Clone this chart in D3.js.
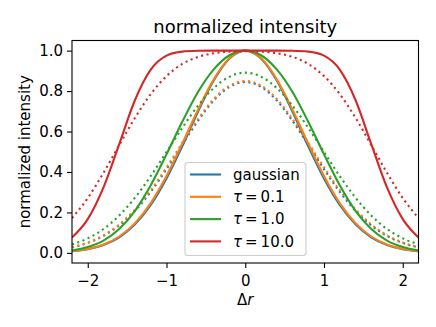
<!DOCTYPE html>
<html>
<head>
<meta charset="utf-8">
<script src="https://cdn.jsdelivr.net/npm/d3@7"></script>
<style>
  body { margin: 0; background: #fff; }
  svg { display: block; font-family: "DejaVu Sans", sans-serif; }
</style>
</head>
<body>
<svg id="chart"></svg>
<script>
// sample positions along delta r
var dr = [-2.2, -2.0, -1.8, -1.6, -1.4, -1.2, -1.0, -0.8, -0.6, -0.4, -0.2, 0.0,
          0.2, 0.4, 0.6, 0.8, 1.0, 1.2, 1.4, 1.6, 1.8, 2.0, 2.2];

// solid lines
var gaussian = [0.008, 0.018, 0.039, 0.077, 0.141, 0.237, 0.368, 0.527, 0.698, 0.852, 0.961, 1.000,
                0.961, 0.852, 0.698, 0.527, 0.368, 0.237, 0.141, 0.077, 0.039, 0.018, 0.008];
var tau01 = [0.008, 0.019, 0.041, 0.081, 0.147, 0.246, 0.380, 0.540, 0.708, 0.858, 0.963, 1.000,
             0.963, 0.858, 0.708, 0.540, 0.380, 0.246, 0.147, 0.081, 0.041, 0.019, 0.008];
var tau1 = [0.012, 0.029, 0.061, 0.118, 0.208, 0.334, 0.487, 0.648, 0.795, 0.907, 0.977, 1.000,
            0.977, 0.907, 0.795, 0.648, 0.487, 0.334, 0.208, 0.118, 0.061, 0.029, 0.012];
var tau10 = [0.076, 0.167, 0.324, 0.538, 0.756, 0.906, 0.975, 0.995, 0.999, 1.000, 1.000, 1.000,
             1.000, 1.000, 0.999, 0.995, 0.975, 0.906, 0.756, 0.538, 0.324, 0.167, 0.076];

// dotted lines (broadened)
var gaussianDot = [0.027, 0.049, 0.084, 0.136, 0.208, 0.302, 0.414, 0.535, 0.653, 0.754, 0.821, 0.845,
                   0.821, 0.754, 0.653, 0.535, 0.414, 0.302, 0.208, 0.136, 0.084, 0.049, 0.027];
var tau01Dot = [0.028, 0.051, 0.087, 0.141, 0.215, 0.310, 0.423, 0.544, 0.662, 0.761, 0.827, 0.850,
                0.827, 0.761, 0.662, 0.544, 0.423, 0.310, 0.215, 0.141, 0.087, 0.051, 0.028];
var tau1Dot = [0.042, 0.072, 0.118, 0.185, 0.273, 0.380, 0.499, 0.618, 0.728, 0.815, 0.871, 0.891,
               0.871, 0.815, 0.728, 0.618, 0.499, 0.380, 0.273, 0.185, 0.118, 0.072, 0.042];
var tau10Dot = [0.172, 0.271, 0.396, 0.533, 0.668, 0.785, 0.874, 0.934, 0.969, 0.987, 0.995, 0.997,
                0.995, 0.987, 0.969, 0.934, 0.874, 0.785, 0.668, 0.533, 0.396, 0.271, 0.172];

var labels = ["gaussian", "0.1", "1.0", "10.0"];
var colors = ["#1f77b4", "#ff7f0e", "#2ca02c", "#d62728"];
var xTicks = [-2, -1, 0, 1, 2];
var yTicks = [0.0, 0.2, 0.4, 0.6, 0.8, 1.0];

var series = [
  {c: 0, dotted: false, v: gaussian}, {c: 0, dotted: true, v: gaussianDot},
  {c: 1, dotted: false, v: tau01},    {c: 1, dotted: true, v: tau01Dot},
  {c: 2, dotted: false, v: tau1},     {c: 2, dotted: true, v: tau1Dot},
  {c: 3, dotted: false, v: tau10},    {c: 3, dotted: true, v: tau10Dot}
];

var width = 436, height = 327;
// plot box (note: "top" would clash with window.top)
var pLeft = 72, pRight = 418.5, pTop = 40.5, pBottom = 263;
var fs = 15, lw = 2.1;

var svg = d3.select("svg#chart")
    .attr("width", width)
    .attr("height", height);

var x = d3.scaleLinear().domain([-2.2, 2.2]).range([pLeft, pRight]);
var y = d3.scaleLinear().domain([-0.05, 1.05]).range([pBottom, pTop]);

svg.append("defs").append("clipPath")
    .attr("id", "plot-area")
  .append("rect")
    .attr("x", pLeft).attr("y", pTop)
    .attr("width", pRight - pLeft).attr("height", pBottom - pTop);

var line = d3.line()
    .x(function(d, i) { return x(dr[i]); })
    .y(function(d) { return y(d); })
    .curve(d3.curveMonotoneX);

svg.append("g")
    .attr("clip-path", "url(#plot-area)")
  .selectAll("path")
  .data(series)
  .enter().append("path")
    .attr("d", function(d) { return line(d.v); })
    .attr("fill", "none")
    .attr("stroke", function(d) { return colors[d.c]; })
    .attr("stroke-width", lw)
    .attr("stroke-dasharray", function(d) { return d.dotted ? (lw * 1) + "," + (lw * 1.65) : null; });

// axes
var xAxis = svg.append("g")
    .attr("transform", "translate(0," + pBottom + ")")
    .call(d3.axisBottom(x).tickValues(xTicks).tickSize(5).tickPadding(7).tickFormat(d3.format("d")));

var yAxis = svg.append("g")
    .attr("transform", "translate(" + pLeft + ",0)")
    .call(d3.axisLeft(y).tickValues(yTicks).tickSize(5).tickPadding(4).tickFormat(d3.format(".1f")));

[xAxis, yAxis].forEach(function(g) {
  g.select(".domain").remove();
  g.selectAll(".tick line").attr("stroke", "#000").attr("stroke-width", 1.1);
  g.selectAll(".tick text").attr("fill", "#000").style("font-size", fs + "px")
      .style("font-family", "DejaVu Sans");
});

// frame
svg.append("rect")
    .attr("x", pLeft).attr("y", pTop)
    .attr("width", pRight - pLeft).attr("height", pBottom - pTop)
    .attr("fill", "none")
    .attr("stroke", "#000")
    .attr("stroke-width", 1.1);

// titles
svg.append("text")
    .attr("x", (pLeft + pRight) / 2).attr("y", 32.5)
    .attr("text-anchor", "middle")
    .style("font-size", "18px")
    .text("normalized intensity");

svg.append("text")
    .attr("transform", "translate(30," + ((pTop + pBottom) / 2) + ") rotate(-90)")
    .attr("text-anchor", "middle")
    .style("font-size", fs + "px")
    .text("normalized intensity");

var xl = svg.append("text")
    .attr("x", (pLeft + pRight) / 2).attr("y", 305)
    .attr("text-anchor", "middle")
    .style("font-size", fs + "px");
xl.append("tspan").text("Δ");
xl.append("tspan").style("font-style", "italic").text("r");

// legend
var lg = svg.append("g").attr("transform", "translate(185,162.5)");
lg.append("rect")
    .attr("width", 121).attr("height", 93)
    .attr("rx", 3)
    .attr("fill", "#fff").attr("fill-opacity", 0.8)
    .attr("stroke", "#cccccc").attr("stroke-width", 1.1);

var item = lg.selectAll(".item")
  .data(labels)
  .enter().append("g")
    .attr("class", "item")
    .attr("transform", function(d, i) { return "translate(0," + (12 + i * 22.3) + ")"; });

item.append("line")
    .attr("x1", 5).attr("x2", 36)
    .attr("stroke", function(d, i) { return colors[i]; })
    .attr("stroke-width", lw);

var lt = item.append("text")
    .attr("x", 48).attr("dy", "0.35em")
    .style("font-size", fs + "px");
lt.each(function(d, i) {
  var t = d3.select(this);
  if (i === 0) { t.text(d); return; }
  t.append("tspan").style("font-style", "italic").text("τ");
  t.append("tspan").attr("dx", 3).text("=");
  t.append("tspan").attr("dx", 3).text(d);
});
</script>
</body>
</html>
